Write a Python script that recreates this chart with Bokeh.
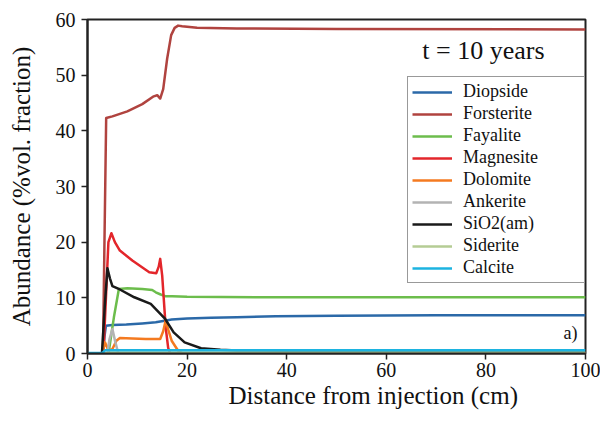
from bokeh.plotting import figure
from bokeh.models import Legend, LegendItem, Label, Title, Range1d, FixedTicker
from bokeh.embed import file_html
from bokeh.resources import INLINE

# ---- data ----
diopside_x = [0, 3.1, 3.4, 3.7, 5, 7.8, 11, 13.7, 15.5, 16.9, 20, 24.8, 30, 37.8, 50, 70, 100]
diopside_y = [0, 0, 3.0, 5.0, 5.1, 5.2, 5.4, 5.6, 5.9, 6.1, 6.3, 6.4, 6.5, 6.7, 6.8, 6.85, 6.85]

forsterite_x = [0, 3.1, 3.75, 5, 8, 11, 13.3, 14.0, 14.6, 15.2, 16.0, 16.8, 17.5, 18.2, 19, 22, 30, 50, 100]
forsterite_y = [0, 0, 42.3, 42.6, 43.5, 44.8, 46.2, 46.4, 45.8, 47.5, 53, 57.2, 58.5, 58.9, 58.8, 58.5, 58.4, 58.3, 58.2]

fayalite_x = [0, 4.0, 4.3, 5.3, 6.3, 8, 11, 13.0, 13.7, 14.7, 15.6, 17, 20, 37.8, 60, 100]
fayalite_y = [0, 0, 0.5, 6.5, 11.6, 11.7, 11.6, 11.4, 11.0, 10.6, 10.3, 10.3, 10.2, 10.1, 10.1, 10.1]

magnesite_x = [0, 3.2, 3.7, 4.2, 4.8, 5.5, 6.5, 9.0, 12.4, 13.8, 14.3, 14.6, 15.0, 15.7, 16.2, 16.6, 100]
magnesite_y = [0, 0, 10, 20.0, 21.6, 20.0, 18.5, 16.7, 14.6, 14.4, 15.6, 17.0, 14.0, 4.7, 1.0, 0, 0]

dolomite_x = [0, 3.0, 3.5, 3.9, 4.2, 5.0, 5.8, 6.5, 9, 11.7, 14.6, 15.2, 15.7, 16.3, 16.9, 18.2, 19.2, 100]
dolomite_y = [0, 0, 2.0, 1.2, 0.5, 0.8, 2.3, 2.8, 2.7, 2.6, 2.6, 4.0, 5.9, 4.0, 2.3, 0.5, 0, 0]

ankerite_x = [0, 4.0, 4.4, 5.0, 5.6, 6.2, 100]
ankerite_y = [0, 0, 2.5, 4.4, 2.0, 0, 0]

sio2_x = [0, 2.9, 3.5, 4.0, 4.5, 5.0, 6.5, 9.4, 12.7, 14.0, 15.6, 17.3, 19.5, 22.8, 26.7, 30, 40, 100]
sio2_y = [0, 0, 9.0, 15.3, 13.5, 12.1, 11.5, 10.1, 8.9, 7.7, 6.2, 3.8, 2.0, 0.95, 0.67, 0.55, 0.5, 0.5]

siderite_x = [0, 3.5, 4.5, 100]
siderite_y = [0, 0, 0.2, 0.2]

calcite_x = [0, 3.0, 3.6, 100]
calcite_y = [0.1, 0.1, 0.6, 0.6]

series_names = ["Diopside", "Forsterite", "Fayalite", "Magnesite", "Dolomite",
                "Ankerite", "SiO2(am)", "Siderite", "Calcite"]
series_x = [diopside_x, forsterite_x, fayalite_x, magnesite_x, dolomite_x,
            ankerite_x, sio2_x, siderite_x, calcite_x]
series_y = [diopside_y, forsterite_y, fayalite_y, magnesite_y, dolomite_y,
            ankerite_y, sio2_y, siderite_y, calcite_y]
series_colors = ["#2b69a8", "#b0433f", "#6cbd4c", "#e3262b", "#f47a20",
                 "#b3b3b3", "#1a1a1a", "#b5cc94", "#1cb3e0"]

x_ticks = [0, 20, 40, 60, 80, 100]
y_ticks = [0, 10, 20, 30, 40, 50, 60]

FONT = "'Liberation Serif'"

p = figure(width=600, height=411, output_backend="svg", toolbar_location=None,
           x_range=Range1d(0, 100), y_range=Range1d(0, 60),
           min_border_left=87, min_border_right=15, min_border_top=19, min_border_bottom=58)

p.xgrid.visible = False
p.ygrid.visible = False
p.outline_line_color = "#222222"
p.outline_line_width = 2

for ax in (p.xaxis[0], p.yaxis[0]):
    ax.axis_line_color = "#222222"
    ax.axis_line_width = 2
    ax.major_tick_line_color = "#222222"
    ax.major_tick_line_width = 1.5
    ax.major_tick_out = 6
    ax.major_tick_in = 0
    ax.minor_tick_line_color = None
    ax.major_label_text_font = FONT
    ax.major_label_text_font_size = "20px"
    ax.major_label_text_font_style = "normal"
    ax.major_label_text_color = "#111111"
    ax.axis_label_text_font = FONT
    ax.axis_label_text_font_style = "normal"
    ax.axis_label_text_font_size = "25px"
    ax.axis_label_text_color = "#111111"

p.xaxis.ticker = FixedTicker(ticks=x_ticks)
p.yaxis.ticker = FixedTicker(ticks=y_ticks)
p.xaxis.major_label_standoff = 3
p.yaxis.major_label_standoff = 6
p.yaxis.axis_label = "Abundance (%vol. fraction)"
p.yaxis.axis_label_standoff = 18

items = []
for name, xs, ys, col in zip(series_names, series_x, series_y, series_colors):
    r = p.line(xs, ys, line_color=col, line_width=2.5, line_join="round")
    items.append(LegendItem(label=name, renderers=[r]))

legend = Legend(items=items, location=(320, 70), margin=0, padding=4,
                spacing=1, glyph_height=20, glyph_width=40, label_height=20,
                label_standoff=11, label_width=117,
                label_text_font=FONT, label_text_font_size="18px",
                label_text_color="#111111",
                border_line_color="#333333", border_line_width=1.5,
                background_fill_color="white", background_fill_alpha=1)
p.add_layout(legend, "center")

p.add_layout(Label(x=79.5, y=54.5, text="t = 10 years", text_font=FONT,
                   text_font_size="26px", text_align="center",
                   text_baseline="middle", text_color="#111111"))
p.add_layout(Label(x=97, y=3.6, text="a)", text_font=FONT,
                   text_font_size="18px", text_align="center",
                   text_baseline="middle", text_color="#111111"))

xt = Title(text="Distance from  injection (cm)", align="left", offset=141,
           text_font=FONT, text_font_size="25px", text_font_style="normal",
           text_color="#111111", standoff=0)
p.add_layout(xt, "below")

open("out.html", "w").write(file_html(p, INLINE))
